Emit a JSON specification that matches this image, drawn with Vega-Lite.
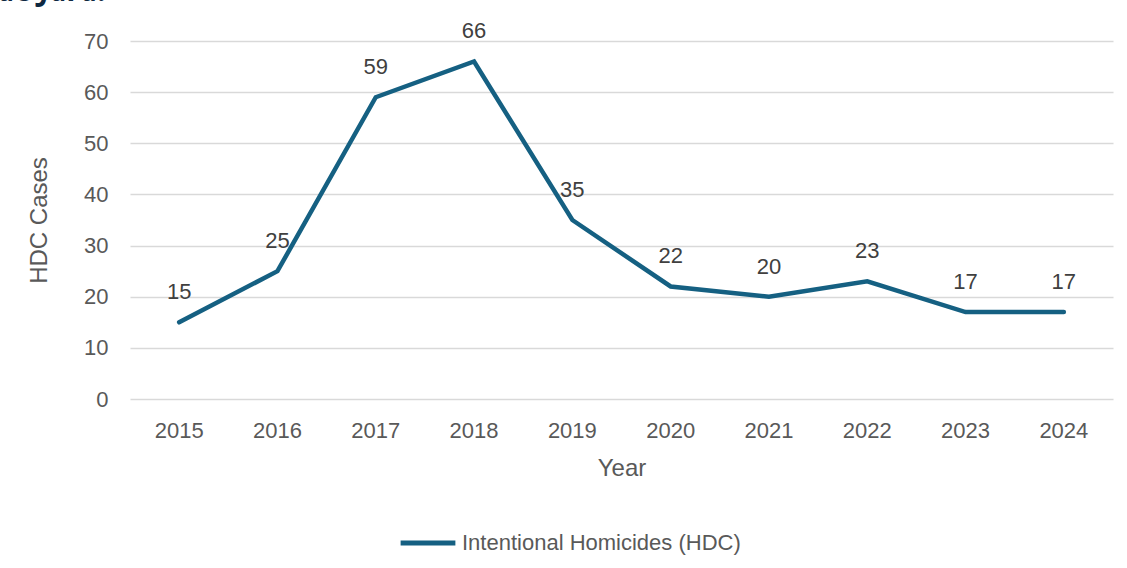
{
  "$schema": "https://vega.github.io/schema/vega-lite/v6.json",
  "width": 983,
  "height": 358,
  "autosize": {"type": "none"},
  "padding": {"left": 130, "top": 41, "right": 14, "bottom": 169},
  "background": "white",
  "title": {
    "text": "de Jara.",
    "anchor": "start",
    "frame": "group",
    "dx": -132,
    "dy": 19,
    "offset": 8,
    "baseline": "alphabetic",
    "font": "Open Sans",
    "fontStyle": "italic",
    "fontWeight": "bold",
    "fontSize": 30,
    "color": "#0E2841"
  },
  "data": {
    "values": [
      {"year": "2015", "cases": 15, "series": "Intentional Homicides (HDC)"},
      {"year": "2016", "cases": 25, "series": "Intentional Homicides (HDC)"},
      {"year": "2017", "cases": 59, "series": "Intentional Homicides (HDC)"},
      {"year": "2018", "cases": 66, "series": "Intentional Homicides (HDC)"},
      {"year": "2019", "cases": 35, "series": "Intentional Homicides (HDC)"},
      {"year": "2020", "cases": 22, "series": "Intentional Homicides (HDC)"},
      {"year": "2021", "cases": 20, "series": "Intentional Homicides (HDC)"},
      {"year": "2022", "cases": 23, "series": "Intentional Homicides (HDC)"},
      {"year": "2023", "cases": 17, "series": "Intentional Homicides (HDC)"},
      {"year": "2024", "cases": 17, "series": "Intentional Homicides (HDC)"}
    ]
  },
  "encoding": {
    "x": {
      "field": "year",
      "type": "ordinal",
      "scale": {"type": "band", "paddingInner": 0, "paddingOuter": 0},
      "axis": {
        "title": "Year",
        "labelAngle": 0,
        "domain": false,
        "ticks": false,
        "grid": false,
        "labelPadding": 21,
        "labelFontSize": 22,
        "labelColor": "#595959",
        "labelFont": "Liberation Sans",
        "titleFont": "Liberation Sans",
        "titleFontSize": 24,
        "titleFontWeight": "normal",
        "titleColor": "#595959",
        "titlePadding": 15
      }
    },
    "y": {
      "field": "cases",
      "type": "quantitative",
      "scale": {"domain": [0, 70], "nice": false},
      "axis": {
        "title": "HDC Cases",
        "values": [0, 10, 20, 30, 40, 50, 60, 70],
        "domain": false,
        "ticks": false,
        "grid": true,
        "gridColor": "#d9d9d9",
        "gridWidth": 1.3,
        "labelPadding": 22,
        "labelFontSize": 22,
        "labelColor": "#595959",
        "labelFont": "Liberation Sans",
        "titleFont": "Liberation Sans",
        "titleFontSize": 24,
        "titleFontWeight": "normal",
        "titleColor": "#595959",
        "titlePadding": 32
      }
    }
  },
  "layer": [
    {
      "mark": {"type": "line", "strokeWidth": 4.5, "strokeCap": "round", "strokeJoin": "miter"},
      "encoding": {
        "color": {
          "field": "series",
          "type": "nominal",
          "scale": {"range": ["#156082"]},
          "legend": {
            "title": null,
            "orient": "none",
            "legendX": 268,
            "legendY": 472,
            "direction": "horizontal",
            "symbolType": "stroke",
            "symbolSize": 3000,
            "symbolStrokeWidth": 5,
            "symbolOffset": 0,
            "labelOffset": 4,
            "labelFontSize": 22,
            "labelFont": "Liberation Sans",
            "labelColor": "#595959",
            "labelLimit": 400
          }
        }
      }
    },
    {
      "mark": {"type": "text", "dy": -30, "baseline": "middle", "fontSize": 22, "font": "Liberation Sans", "color": "#404040"},
      "encoding": {"text": {"field": "cases", "type": "quantitative"}}
    }
  ],
  "config": {"view": {"stroke": null}}
}
